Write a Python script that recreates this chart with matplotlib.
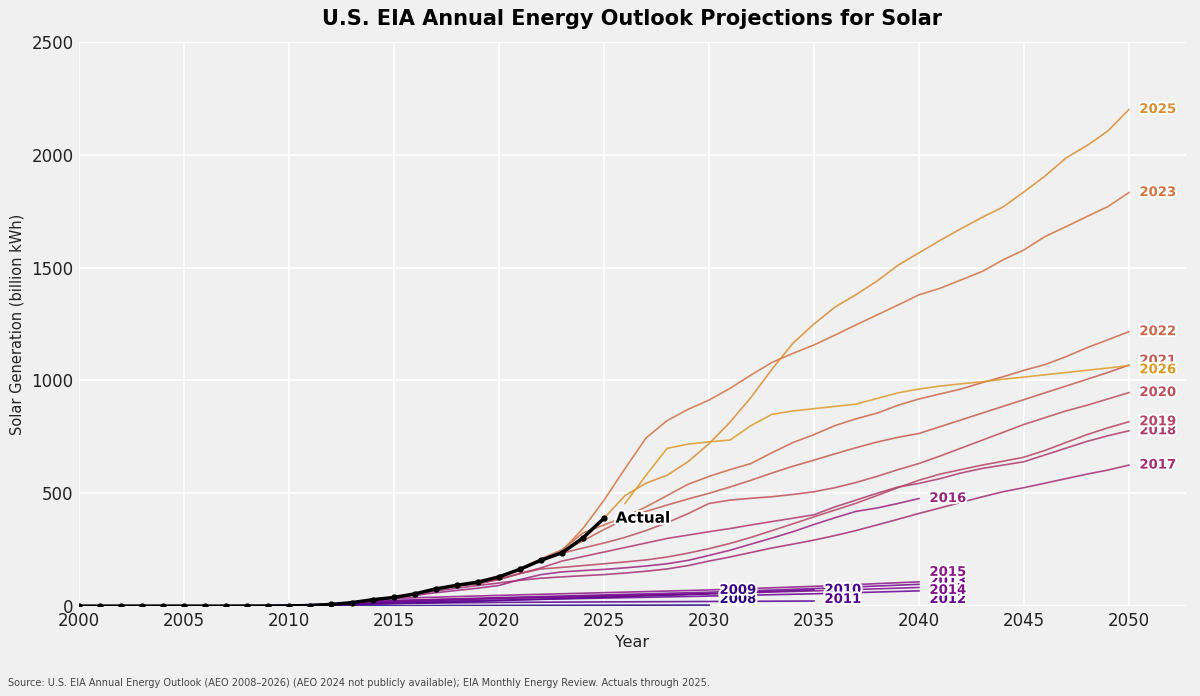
import numpy as np
import matplotlib.pyplot as plt
import matplotlib.patheffects as pe

# ---- data (billion kWh) ----
actual_years = list(range(2000, 2026))
actual = [0.5, 0.5, 0.6, 0.5, 0.6, 0.6, 0.5, 0.6, 0.9, 0.9, 1.2, 3, 8, 16, 29, 39,
          55, 77, 93, 107, 130, 164, 204, 237, 303, 390]

aeo2008_years = [2006, 2010, 2015, 2020, 2025, 2030]
aeo2008 = [0.5, 1.5, 2.5, 3.5, 4.5, 5]
aeo2009_years = [2007, 2010, 2015, 2020, 2025, 2030]
aeo2009 = [0.6, 3, 12, 25, 40, 55]
aeo2010_years = [2008, 2010, 2015, 2020, 2025, 2030, 2035]
aeo2010 = [0.9, 4, 20, 35, 45, 55, 72]
aeo2011_years = [2009, 2012, 2015, 2020, 2025, 2030, 2035]
aeo2011 = [1, 5, 12, 17, 19, 21, 23]
aeo2012_years = [2010, 2015, 2020, 2025, 2030, 2035, 2040]
aeo2012 = [1.2, 18, 27, 36, 45, 55, 68]
aeo2013_years = [2011, 2015, 2020, 2025, 2030, 2035, 2040]
aeo2013 = [3, 25, 38, 50, 62, 78, 97]
aeo2014_years = [2012, 2015, 2020, 2025, 2030, 2035, 2040]
aeo2014 = [8, 25, 35, 45, 55, 68, 83]
aeo2015_years = [2013, 2015, 2020, 2025, 2030, 2035, 2040]
aeo2015 = [16, 35, 48, 60, 72, 88, 108]

aeo2016_years = list(range(2014, 2041))
aeo2016 = [29, 38, 48, 60, 70, 80, 92, 118, 140, 152, 158, 163, 170, 178, 188, 203,
           225, 248, 275, 302, 330, 362, 392, 420, 435, 455, 477]
aeo2017_years = list(range(2015, 2051))
aeo2017 = [39, 52, 68, 80, 92, 103, 115, 124, 130, 135, 140, 147, 155, 165, 180, 200,
           218, 238, 258, 275, 293, 313, 335, 360, 385, 411, 435, 460, 484, 507,
           525, 545, 565, 585, 603, 625]
aeo2018_years = list(range(2016, 2051))
aeo2018 = [55, 75, 90, 100, 118, 145, 170, 200, 220, 240, 260, 280, 300, 315, 330,
           344, 360, 375, 390, 405, 440, 470, 500, 528, 544, 565, 590, 610, 625, 640,
           670, 700, 730, 755, 777]
aeo2019_years = list(range(2017, 2051))
aeo2019 = [77, 93, 100, 120, 145, 165, 172, 180, 188, 196, 205, 218, 235, 255, 278,
           305, 335, 365, 396, 426, 456, 490, 525, 558, 585, 605, 625, 642, 660, 690,
           725, 760, 790, 817]
aeo2020_years = list(range(2018, 2051))
aeo2020 = [93, 107, 130, 165, 200, 235, 258, 280, 305, 335, 370, 410, 455, 470, 478,
           485, 495, 507, 525, 548, 575, 605, 632, 665, 700, 735, 770, 805, 835, 865,
           890, 918, 946]
aeo2021_years = list(range(2019, 2051))
aeo2021 = [107, 132, 165, 205, 240, 290, 340, 385, 420, 448, 475, 500, 528, 558, 590,
           620, 647, 675, 702, 727, 748, 765, 795, 825, 855, 885, 915, 945, 975, 1005,
           1035, 1068]
aeo2022_years = list(range(2020, 2051))
aeo2022 = [130, 165, 210, 250, 325, 360, 396, 440, 490, 540, 575, 605, 632, 680, 725,
           760, 800, 830, 855, 890, 918, 940, 962, 990, 1016, 1045, 1070, 1105, 1145,
           1180, 1216]
aeo2023_years = list(range(2021, 2051))
aeo2023 = [165, 205, 245, 345, 470, 610, 745, 822, 872, 913, 965, 1024, 1080, 1120,
           1157, 1201, 1246, 1290, 1334, 1379, 1408, 1445, 1482, 1534, 1578, 1637,
           1681, 1726, 1770, 1832]
aeo2025_years = list(range(2023, 2051))
aeo2025 = [237, 300, 390, 490, 545, 580, 640, 720, 815, 925, 1050, 1165, 1250, 1325,
           1380, 1440, 1510, 1565, 1620, 1672, 1722, 1768, 1835, 1905, 1985, 2040,
           2105, 2200]
aeo2026_years = list(range(2026, 2051))
aeo2026 = [455, 580, 699, 718, 728, 736, 800, 850, 865, 875, 885, 895, 920, 945, 962,
           975, 985, 994, 1005, 1015, 1025, 1035, 1045, 1055, 1066]

editions = [2008, 2009, 2010, 2011, 2012, 2013, 2014, 2015, 2016, 2017, 2018, 2019,
            2020, 2021, 2022, 2023, 2025, 2026]
series = [(aeo2008_years, aeo2008), (aeo2009_years, aeo2009), (aeo2010_years, aeo2010),
          (aeo2011_years, aeo2011), (aeo2012_years, aeo2012), (aeo2013_years, aeo2013),
          (aeo2014_years, aeo2014), (aeo2015_years, aeo2015), (aeo2016_years, aeo2016),
          (aeo2017_years, aeo2017), (aeo2018_years, aeo2018), (aeo2019_years, aeo2019),
          (aeo2020_years, aeo2020), (aeo2021_years, aeo2021), (aeo2022_years, aeo2022),
          (aeo2023_years, aeo2023), (aeo2025_years, aeo2025), (aeo2026_years, aeo2026)]


def spread_labels(vals, gap=40, floor=30):
    """push end labels apart so they don't sit on top of each other"""
    vals = np.asarray(vals, float)
    order = np.argsort(vals)
    pos = vals[order].copy()
    for _ in range(200):
        pos[0] = max(pos[0], floor)
        for i in range(1, len(pos)):
            if pos[i] - pos[i - 1] < gap:
                m = (pos[i] + pos[i - 1]) / 2
                pos[i - 1] = m - gap / 2
                pos[i] = m + gap / 2
    pos[0] = max(pos[0], floor)
    for i in range(1, len(pos)):
        pos[i] = max(pos[i], pos[i - 1] + gap)
    out = np.empty_like(pos)
    out[order] = pos
    return out


bg = '#f0f0f0'
fig = plt.figure(figsize=(12, 6.96), dpi=100, facecolor=bg)
ax = fig.add_axes([0.066, 0.129, 0.922, 0.811])
ax.set_facecolor(bg)

# plasma, a bit darker and muted like the original
cmap = plt.get_cmap('plasma')
cols = []
for e in editions:
    r, g, b, _ = cmap(0.05 + 0.78 * (e - 2008) / (2026 - 2008))
    cols.append((r * 0.87, g * 0.87, b * 0.87))

for (yrs, vals), col in zip(series, cols):
    ax.plot(yrs, vals, color=col, lw=1.2, alpha=0.85, zorder=2)

# end labels, grouped by final year
ends = {}
for k, (yrs, vals) in enumerate(series):
    ends.setdefault(yrs[-1], []).append(k)
for end_year, idx in ends.items():
    pos = spread_labels([series[k][1][-1] for k in idx])
    for k, p in zip(idx, pos):
        ax.text(end_year + 0.5, p, str(editions[k]), color=cols[k], fontsize=9.5,
                fontweight='bold', va='center', ha='left', zorder=4,
                path_effects=[pe.withStroke(linewidth=3, foreground='white')])

ax.plot(actual_years, actual, color='black', lw=2.5, marker='o', ms=3.5, zorder=5)
ax.text(actual_years[-1] + 0.55, actual[-1], 'Actual', fontsize=11, fontweight='bold',
        va='center', ha='left', zorder=6,
        path_effects=[pe.withStroke(linewidth=3, foreground='white')])

ax.set_xlim(2000, 2052.7)
ax.set_ylim(0, 2500)
ax.set_xticks(np.arange(2000, 2051, 5))
ax.set_yticks(np.arange(0, 2501, 500))
ax.grid(color='white', lw=1.2)
ax.set_axisbelow(True)
for s in ax.spines.values():
    s.set_visible(False)
ax.tick_params(length=0, labelsize=12, colors='#222222', pad=4)
ax.set_xlabel('Year', fontsize=11.5, color='#222222', labelpad=4)
ax.set_ylabel('Solar Generation (billion kWh)', fontsize=10.5, color='#222222', labelpad=5)
ax.set_title('U.S. EIA Annual Energy Outlook Projections for Solar', fontsize=15,
             fontweight='bold', pad=12)

fig.text(0.007, 0.012, 'Source: U.S. EIA Annual Energy Outlook (AEO 2008\u20132026) (AEO 2024 not '
         'publicly available); EIA Monthly Energy Review. Actuals through 2025.',
         fontsize=7, color='#444444', ha='left', va='bottom')

fig.savefig('out.png', dpi=100, facecolor=bg)
